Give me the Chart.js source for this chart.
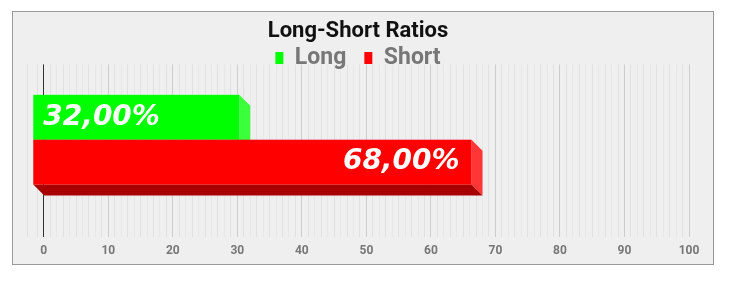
<!DOCTYPE html>
<html>
<head>
<meta charset="utf-8">
<script src="https://cdn.jsdelivr.net/npm/chart.js@4/dist/chart.umd.min.js"></script>
<style>
  html, body { margin: 0; padding: 0; background: #fff; }
  #panel {
    position: absolute; left: 12px; top: 11px;
    width: 700px; height: 252px;
    border: 1px solid #999; background: #efefef;
  }
  canvas { display: block; }
</style>
</head>
<body>
<div id="panel"><canvas id="chart" width="700" height="252"></canvas></div>
<script>
// Long-Short Ratios - 3D horizontal bars

const categories = ['Ratio'];
const seriesNames = ['Long', 'Short'];
const longValues = [32];
const shortValues = [68];
const axisTicks = [0, 10, 20, 30, 40, 50, 60, 70, 80, 90, 100];

const COLORS = {
  long: { front: '#00ff00', side: '#3cff3c', bottom: '#00a800' },
  short: { front: '#ff0000', side: '#ff3636', bottom: '#a80000' },
  grid: '#e1e1e1',
  gridAlt: '#e7e7e7',
  major: '#cdcdcd',
  zero: '#333',
  tick: '#777'
};

const DEPTH = 11;

function formatPct(v) {
  return v.toFixed(2).replace('.', ',') + '%';
}

// draws each bar as a box: side, bottom, front (shifted up-left by DEPTH)
const bars3d = {
  id: 'bars3d',
  beforeDatasetDraw() { return false; },
  afterDatasetsDraw(chart) {
    const ctx = chart.ctx;
    chart.data.datasets.forEach((ds, i) => {
      const meta = chart.getDatasetMeta(i);
      if (meta.hidden) return;
      meta.data.forEach((bar, j) => {
        const p = bar.getProps(['x', 'y', 'base', 'height'], true);
        const left = p.base - DEPTH, right = p.x - DEPTH;
        const top = p.y - p.height / 2 - DEPTH, bottom = p.y + p.height / 2 - DEPTH;
        const c = ds.faces;
        ctx.save();
        // side
        ctx.fillStyle = c.side;
        ctx.beginPath();
        ctx.moveTo(right, top);
        ctx.lineTo(right + DEPTH, top + DEPTH);
        ctx.lineTo(right + DEPTH, bottom + DEPTH);
        ctx.lineTo(right, bottom);
        ctx.closePath();
        ctx.fill();
        // bottom
        ctx.fillStyle = c.bottom;
        ctx.beginPath();
        ctx.moveTo(left, bottom);
        ctx.lineTo(right, bottom);
        ctx.lineTo(right + DEPTH, bottom + DEPTH);
        ctx.lineTo(left + DEPTH, bottom + DEPTH);
        ctx.closePath();
        ctx.fill();
        // front
        ctx.fillStyle = c.front;
        ctx.fillRect(left, top, right - left, bottom - top);
        // value label
        ctx.fillStyle = '#fff';
        ctx.font = 'italic bold 28px "DejaVu Sans"';
        ctx.textBaseline = 'middle';
        const txt = formatPct(ds.data[j]);
        if (ds.labelAt === 'start') {
          ctx.textAlign = 'left';
          ctx.fillText(txt, left + 10, (top + bottom) / 2);
        } else {
          ctx.textAlign = 'right';
          ctx.fillText(txt, right - 12, (top + bottom) / 2);
        }
        ctx.restore();
      });
    });
  }
};

// legend box is squeezed against the plot; let the descenders show
const legendNoClip = {
  id: 'legendNoClip',
  afterLayout(chart) {
    if (chart.legend) {
      chart.legend.bottom += 12;
      chart.legend.height += 12;
    }
  }
};

new Chart(document.getElementById('chart').getContext('2d'), {
  type: 'bar',
  data: {
    labels: categories,
    datasets: [
      { label: seriesNames[0], data: longValues, backgroundColor: COLORS.long.front, faces: COLORS.long, labelAt: 'start' },
      { label: seriesNames[1], data: shortValues, backgroundColor: COLORS.short.front, faces: COLORS.short, labelAt: 'end' }
    ]
  },
  options: {
    indexAxis: 'y',
    responsive: false,
    animation: false,
    categoryPercentage: 0.52,
    barPercentage: 1,
    layout: { padding: { left: 14, right: 24, top: 0, bottom: 0 } },
    plugins: {
      tooltip: { enabled: false },
      title: {
        display: true,
        text: 'Long-Short Ratios',
        color: '#111',
        font: { family: 'Roboto', size: 22, weight: 'bold' },
        padding: { top: 6, bottom: -16 }
      },
      legend: {
        display: true,
        maxHeight: 36,
        labels: {
          color: COLORS.tick,
          boxWidth: 8,
          boxHeight: 12,
          padding: 18,
          font: { family: 'Roboto', size: 23, weight: 'bold' }
        }
      }
    },
    scales: {
      x: {
        min: -2.6,
        max: 100,
        border: { display: false },
        afterFit: s => { s.height = 27; },
        grid: {
          drawTicks: false,
          color: c => {
            const v = c.tick ? c.tick.value : null;
            if (v === 0) return COLORS.zero;
            if (axisTicks.includes(v)) return COLORS.major;
            return Math.round(v) % 2 ? COLORS.grid : COLORS.gridAlt;
          }
        },
        ticks: {
          stepSize: 1,
          maxTicksLimit: 200,
          autoSkip: false,
          maxRotation: 0,
          minRotation: 0,
          padding: 7,
          color: COLORS.tick,
          font: { family: 'Roboto', size: 12, weight: 'bold' },
          callback: v => axisTicks.includes(v) ? String(v) : ''
        }
      },
      y: {
        display: false
      }
    }
  },
  plugins: [bars3d, legendNoClip]
});
</script>
</body>
</html>
